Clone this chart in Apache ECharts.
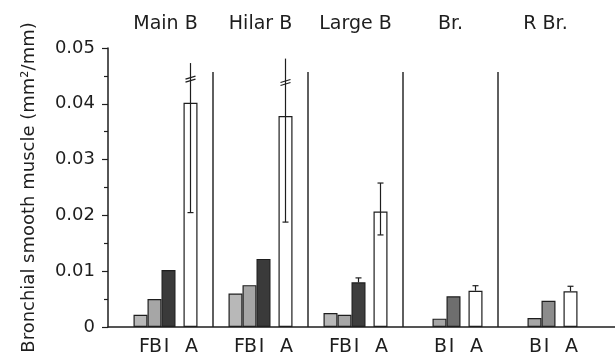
<!DOCTYPE html>
<html>
<head>
<meta charset="utf-8">
<script src="https://cdn.jsdelivr.net/npm/echarts@6/dist/echarts.min.js"></script>
<style>html,body{margin:0;padding:0;background:#fff}#c{width:615px;height:362px}</style>
</head>
<body>
<div id="c"></div>
<script>
// ---- data ----
const groups = ['Main B', 'Hilar B', 'Large B', 'Br.', 'R Br.'];
const valF = [0.0022, 0.0060, 0.0025, null, null];
const valB = [0.0050, 0.0075, 0.0022, 0.0015, 0.0016];
const valI = [0.0102, 0.0122, 0.0080, 0.0055, 0.0047];
const valA = [0.0402, 0.0378, 0.0207, 0.0065, 0.0064];
const errALow = [0.0205, 0.0188, 0.0165, null, null];
const errAHigh = [0.0473, 0.0481, 0.0258, 0.0074, 0.0073];
const errABreak = [0.0446, 0.0440, null, null, null];
const errIHigh = [null, null, 0.0088, null, null];
const yTickValues = [0, 0.01, 0.02, 0.03, 0.04, 0.05];

// ---- styling / layout constants ----
const FONT = 'DejaVu Sans';
const INK = '#1e1e1e';
const BAR_W = 14, SPACER_W = 8;
const TOTAL_W = 4 * BAR_W + SPACER_W;
const OFF = {
  F: -TOTAL_W / 2 + BAR_W / 2,
  B: -TOTAL_W / 2 + BAR_W * 1.5,
  I: -TOTAL_W / 2 + BAR_W * 2.5,
  A: TOTAL_W / 2 - BAR_W / 2
};
const iColors = ['#3a3a3a', '#3a3a3a', '#3e3e3e', '#6e6e6e', '#8c8c8c'];

const chart = echarts.init(document.getElementById('c'), null, {renderer: 'canvas'});

function barSeries(name, values, color, labelOffset, colors) {
  return {
    type: 'bar', name: name, xAxisIndex: 0, yAxisIndex: 0,
    barWidth: BAR_W, barGap: '0%',
    data: values.map((v, i) => v == null ? null : (colors ? {value: v, itemStyle: {color: colors[i]}} : v)),
    itemStyle: {color: color, borderColor: INK, borderWidth: 1.2},
    label: {
      show: true, position: 'bottom', distance: 11, offset: [labelOffset, 0],
      formatter: name, fontFamily: FONT, fontSize: 19, color: INK
    },
    z: 2
  };
}

function errRender(offset) {
  return function (params, api) {
    const cat = api.value(0);
    const cx = api.coord([cat, 0])[0] + offset;
    const hi = api.value(1), lo = api.value(2), brk = api.value(3);
    const yHi = api.coord([cat, hi])[1];
    const style = {stroke: INK, lineWidth: 1.2, fill: null};
    const ch = [];
    let yLo = yHi;
    if (!isNaN(lo) && lo != null) {
      yLo = api.coord([cat, lo])[1];
      ch.push({type: 'line', shape: {x1: cx - 3, y1: yLo, x2: cx + 3, y2: yLo}, style: style});
    } else {
      yLo = api.coord([cat, api.value(4)])[1];
    }
    ch.push({type: 'line', shape: {x1: cx, y1: yHi, x2: cx, y2: yLo}, style: style});
    if (!isNaN(brk) && brk != null) {
      const yb = api.coord([cat, brk])[1];
      ch.push({type: 'line', shape: {x1: cx - 5, y1: yb + 1, x2: cx + 5, y2: yb - 2}, style: style});
      ch.push({type: 'line', shape: {x1: cx - 5, y1: yb + 4, x2: cx + 5, y2: yb + 1}, style: style});
    } else {
      ch.push({type: 'line', shape: {x1: cx - 3, y1: yHi, x2: cx + 3, y2: yHi}, style: style});
    }
    return {type: 'group', children: ch};
  };
}

const errAData = groups.map((g, i) => [i, errAHigh[i], errALow[i], errABreak[i], valA[i]]);
const errIData = groups.map((g, i) => [i, errIHigh[i], null, null, valI[i]]).filter(d => d[1] != null);

const option = {
  backgroundColor: '#ffffff',
  animation: false,
  textStyle: {fontFamily: FONT},
  grid: [
    {left: 118, right: 22, top: 48, bottom: 35},
    {left: 108, right: 0, top: 48, bottom: 35},
    {left: 118, right: 22, top: 72, bottom: 35}
  ],
  xAxis: [
    {
      type: 'category', gridIndex: 0, data: groups, position: 'bottom',
      axisLine: {show: false}, axisTick: {show: false}, axisLabel: {show: false}, splitLine: {show: false}
    },
    {
      type: 'category', gridIndex: 0, data: groups, position: 'top',
      axisLine: {show: false}, axisTick: {show: false}, splitLine: {show: false},
      axisLabel: {show: true, margin: 14, fontFamily: FONT, fontSize: 19, color: INK, interval: 0}
    },
    {
      type: 'value', gridIndex: 1, min: 0, max: 1,
      axisLine: {show: true, lineStyle: {color: INK, width: 1.5}},
      axisTick: {show: false}, axisLabel: {show: false}, splitLine: {show: false}
    },
    {
      type: 'category', gridIndex: 2, data: groups,
      axisLine: {show: false}, axisTick: {show: false}, axisLabel: {show: false},
      splitLine: {show: true, interval: 0, showMinLine: false, showMaxLine: false,
        lineStyle: {color: '#2a2a2a', width: 1.5}}
    }
  ],
  yAxis: [
    {
      type: 'value', gridIndex: 0, min: 0, max: 0.05, interval: 0.01, offset: 10,
      name: 'Bronchial smooth muscle (mm\u00B2/mm)', nameLocation: 'middle', nameGap: 70,
      nameTextStyle: {fontFamily: FONT, fontSize: 18, color: INK},
      axisLine: {show: true, lineStyle: {color: INK, width: 1.5}},
      axisTick: {show: true, inside: false, length: 6, lineStyle: {color: INK, width: 1.2}},
      minorTick: {show: true, splitNumber: 2, length: 4, lineStyle: {color: INK, width: 1.2}},
      splitLine: {show: false},
      axisLabel: {
        margin: 13, fontFamily: FONT, fontSize: 18, color: INK,
        formatter: v => {
          const t = yTickValues.find(x => Math.abs(x - v) < 1e-9);
          return t === 0 ? '0' : t.toFixed(2);
        }
      }
    },
    {type: 'value', gridIndex: 1, show: false, min: 0, max: 1},
    {type: 'value', gridIndex: 2, show: false, min: 0, max: 1}
  ],
  series: [
    barSeries('F', valF, '#b8b8b8', 4),
    barSeries('B', valB, '#a6a6a6', 1),
    barSeries('I', valI, '#3a3a3a', -2, iColors),
    {type: 'bar', name: 'spacer', barWidth: SPACER_W, barGap: '0%', data: groups.map(() => null), silent: true},
    barSeries('A', valA, '#ffffff', 1),
    {
      type: 'custom', name: 'errA', xAxisIndex: 0, yAxisIndex: 0,
      renderItem: errRender(OFF.A), data: errAData, encode: {x: 0, y: 1}, z: 5
    },
    {
      type: 'custom', name: 'errI', xAxisIndex: 0, yAxisIndex: 0,
      renderItem: errRender(OFF.I), data: errIData, encode: {x: 0, y: 1}, z: 5
    }
  ]
};
chart.setOption(option);
</script>
</body>
</html>
